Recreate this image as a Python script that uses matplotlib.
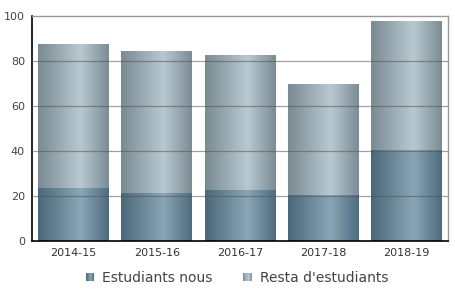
import numpy as np
import matplotlib
matplotlib.use("Agg")
import matplotlib.pyplot as plt
from matplotlib.colors import LinearSegmentedColormap
from matplotlib.patches import Rectangle
from matplotlib.legend_handler import HandlerBase

cursos = ["2014-15", "2015-16", "2016-17", "2017-18", "2018-19"]
nous = [23.4, 21.2, 22.6, 20.3, 40.3]
total = [87.5, 84.3, 82.6, 69.7, 97.6]
resta = [t - n for t, n in zip(total, nous)]

# horizontal gradients: dark edges, light band a bit right of centre
cmap_nous = LinearSegmentedColormap.from_list(
    "nous", [(0, "#4a6879"), (0.6, "#8aa6b6"), (1, "#4d6c7e")])
cmap_resta = LinearSegmentedColormap.from_list(
    "resta", [(0, "#7a8a93"), (0.6, "#b9c9d1"), (1, "#7c8c95")])

fig = plt.figure(figsize=(4.56, 3.05), dpi=100)
ax = fig.add_axes([32 / 456, 64 / 305, 416 / 456, 225 / 305])

width = 0.85
grad = np.linspace(0, 1, 256).reshape(1, -1)
x = np.arange(len(cursos))

def gradient_bars(bottoms, heights, cmap):
    for xi, b, h in zip(x, bottoms, heights):
        bar = ax.bar(xi, h, width, bottom=b, color="none", linewidth=0, zorder=2)[0]
        img = ax.imshow(grad, cmap=cmap, aspect="auto", zorder=2,
                        extent=[xi - width / 2, xi + width / 2, b, b + h])
        img.set_clip_path(bar)

gradient_bars([0] * len(x), nous, cmap_nous)
gradient_bars(nous, resta, cmap_resta)

ax.set_xlim(-0.5, len(cursos) - 0.5)
ax.set_ylim(0, 100)
ax.set_yticks([0, 20, 40, 60, 80, 100])
ax.set_xticks(x)
ax.set_xticklabels(cursos)

for yv in [20, 40, 60, 80]:
    ax.axhline(yv, color="#555555", alpha=0.55, linewidth=0.9, zorder=3)

ax.tick_params(axis="both", length=0, labelsize=8, colors="#333333", pad=5)
ax.tick_params(axis="y", labelcolor="#444444")
for side in ["left", "bottom"]:
    ax.spines[side].set_color("black")
    ax.spines[side].set_linewidth(1.2)
for side in ["top", "right"]:
    ax.spines[side].set_color("#999999")
    ax.spines[side].set_linewidth(1.0)


# legend key: small square with the same stripe gradient
class GradientKey(HandlerBase):
    def __init__(self, cmap):
        super().__init__()
        self.cmap = cmap

    def create_artists(self, legend, orig_handle, xdescent, ydescent,
                       width, height, fontsize, trans):
        n = 8
        side = min(width, height)
        x0 = -xdescent + (width - side) / 2
        y0 = -ydescent + (height - side) / 2
        arts = []
        for i in range(n):
            r = Rectangle((x0 + side * i / n, y0), side / n, side,
                          facecolor=self.cmap((i + 0.5) / n), linewidth=0,
                          transform=trans)
            arts.append(r)
        return arts

h1 = Rectangle((0, 0), 1, 1)
h2 = Rectangle((0, 0), 1, 1)
fig.legend([h1, h2], ["Estudiants nous", "Resta d'estudiants"],
           loc="center", bbox_to_anchor=(0.52, 0.088), ncol=2, frameon=False,
           fontsize=10, handlelength=0.6, handleheight=0.6, columnspacing=2.2,
           handletextpad=0.6, labelcolor="#444444",
           handler_map={h1: GradientKey(cmap_nous), h2: GradientKey(cmap_resta)})

fig.savefig("out.png", dpi=100)
